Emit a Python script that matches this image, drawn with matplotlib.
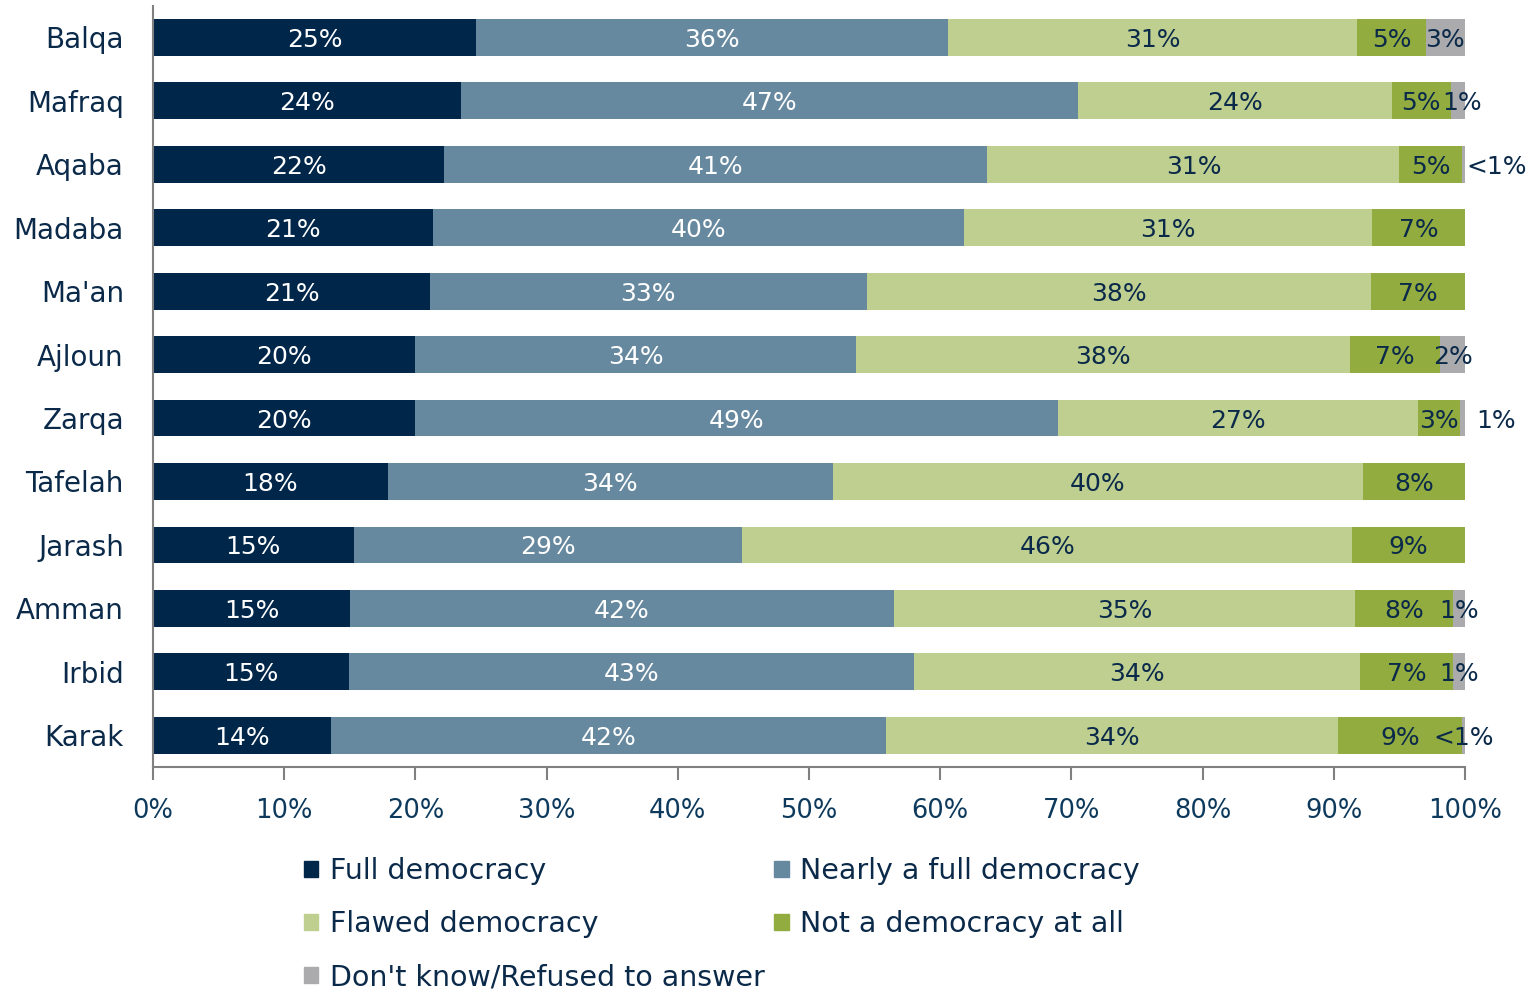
import matplotlib.pyplot as plt
from matplotlib.patches import Patch

# data (bar widths in %, labels as printed)
regions = ["Balqa", "Mafraq", "Aqaba", "Madaba", "Ma'an", "Ajloun",
           "Zarqa", "Tafelah", "Jarash", "Amman", "Irbid", "Karak"]
series = ["Full democracy", "Nearly a full democracy", "Flawed democracy",
          "Not a democracy at all", "Don't know/Refused to answer"]

full = [24.6, 23.5, 22.2, 21.3, 21.1, 20.0, 20.0, 17.9, 15.3, 15.0, 14.9, 13.6]
nearly = [36.0, 47.0, 41.4, 40.5, 33.3, 33.6, 49.0, 33.9, 29.6, 41.5, 43.1, 42.3]
flawed = [31.2, 23.9, 31.4, 31.1, 38.4, 37.6, 27.4, 40.4, 46.5, 35.1, 34.0, 34.4]
not_demo = [5.2, 4.5, 4.8, 7.1, 7.2, 6.9, 3.2, 7.8, 8.6, 7.5, 7.1, 9.5]
dont_know = [3.0, 1.1, 0.2, 0.0, 0.0, 1.9, 0.4, 0.0, 0.0, 0.9, 0.9, 0.2]

full_lbl = ["25%", "24%", "22%", "21%", "21%", "20%", "20%", "18%", "15%", "15%", "15%", "14%"]
nearly_lbl = ["36%", "47%", "41%", "40%", "33%", "34%", "49%", "34%", "29%", "42%", "43%", "42%"]
flawed_lbl = ["31%", "24%", "31%", "31%", "38%", "38%", "27%", "40%", "46%", "35%", "34%", "34%"]
not_lbl = ["5%", "5%", "5%", "7%", "7%", "7%", "3%", "8%", "9%", "8%", "7%", "9%"]
dk_lbl = ["3%", "1%", "<1%", "", "", "2%", "1%", "", "", "1%", "1%", "<1%"]

# labels that sit outside the bar end
outside = [("Aqaba", 4), ("Zarqa", 4)]

values = [full, nearly, flawed, not_demo, dont_know]
labels = [full_lbl, nearly_lbl, flawed_lbl, not_lbl, dk_lbl]
colors = ["#00264a", "#67899f", "#becf90", "#92ac3f", "#ababad"]
text_colors = ["white", "white", "#0b2a4a", "#0b2a4a", "#0b2a4a"]
navy = "#0b2a4a"

plt.rcParams["font.family"] = ["DejaVu Sans"]

fig = plt.figure(figsize=(15.32, 9.9), dpi=100)
ax = fig.add_axes([0.0999, 0.2253, 0.8564, 0.769])

y = list(range(len(regions)))
left = [0.0] * len(regions)
for k in range(len(series)):
    ax.barh(y, values[k], left=left, height=0.58, color=colors[k], label=series[k])
    for i in range(len(regions)):
        txt = labels[k][i]
        if txt:
            color = text_colors[k]
            if (regions[i], k) in outside:
                xpos = 102.4
                color = navy
            else:
                xpos = left[i] + values[k][i] / 2
                if k == 4 and regions[i] == "Mafraq":
                    xpos += 0.35  # tight spot, nudge away from the 5%
            ax.text(xpos, i, txt, ha="center", va="center_baseline", fontsize=18,
                    color=color, clip_on=False)
        left[i] += values[k][i]

ax.set_xlim(0, 100)
ax.set_ylim(len(regions) - 0.5, -0.5)
ax.set_yticks(y)
ax.set_yticklabels(regions, fontsize=20, color=navy)
ax.set_xticks(range(0, 101, 10))
ax.set_xticklabels([f"{v}%" for v in range(0, 101, 10)], fontsize=18.5, color="#0d3a5c")

for s in ["top", "right"]:
    ax.spines[s].set_visible(False)
for s in ["left", "bottom"]:
    ax.spines[s].set_color("#808080")
    ax.spines[s].set_linewidth(1.5)
ax.tick_params(axis="x", direction="out", length=9, width=1.5, color="#808080", pad=13)
ax.tick_params(axis="y", length=0, pad=21)

# legend reads row by row in the original, matplotlib fills columns first
handles = [Patch(color=c) for c in colors]
order = [0, 2, 4, 1, 3]
fig.legend([handles[i] for i in order], [series[i] for i in order],
           loc="upper left", bbox_to_anchor=(0.1984, 0.1344), ncol=2, frameon=False,
           fontsize=20.5, labelcolor=navy, handlelength=0.5, handleheight=0.5,
           handletextpad=0.4, columnspacing=0.35, labelspacing=0.88, borderpad=0,
           borderaxespad=0)

fig.savefig("out.png", dpi=100)
